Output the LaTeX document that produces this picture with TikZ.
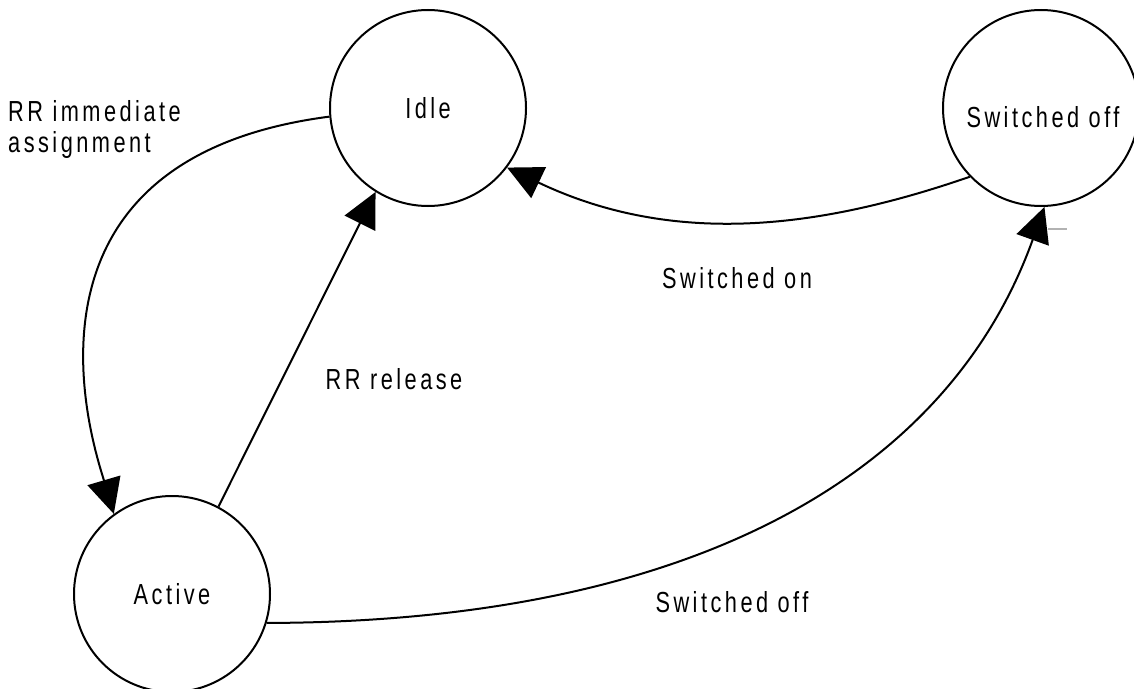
\documentclass[tikz,border=0pt]{standalone}
\usepackage{fontspec}
\setmainfont{Liberation Sans}[FakeStretch=0.75, LetterSpace=12]
\usetikzlibrary{arrows.meta}

\tikzset{
  state/.style={draw, circle, line width=2pt, minimum size=196pt, inner sep=0pt},
  txt/.style={font=\fontsize{29}{31}\selectfont},
  arr/.style={line width=2pt, -{Triangle[length=35pt, width=34pt]}},
}

\begin{document}
\begin{tikzpicture}[x=1pt, y=-1pt, txt]
  \useasboundingbox (0,0) rectangle (1134,688);

  % states
  \node[state] (idle)   at (428,108) {Idle};
  \node[state] (swoff)  at (1041,108) {};
  \node (swofftext) at (1043,117) {Switched off};
  \node[state] (active) at (172,594) {Active};

  % transition labels
  \node[anchor=north west, align=left, inner sep=0pt] (lblassign) at (8,100)
    {RR immediate\\assignment};
  \node (lblrelease) at (394,379) {RR release};
  \node (lblon)  at (737,278) {Switched on};
  \node (lbloff) at (732,602) {Switched off};

  % transitions
  \draw[arr] (idle.185) .. controls (-5,160) and (95,450) .. (active.126);
  \draw[arr] (active.62) -- (idle.238.6);
  \draw[arr] (swoff.224) .. controls (830,225) and (680,250) .. (idle.323);
  \draw[arr] (active.343) .. controls (700,622) and (950,470) .. (swoff.272);

  % small stray tick beside the arrowhead
  \coordinate (tickA) at (1048,229);
  \coordinate (tickB) at (1067,229);
  \draw[gray!60, line width=1.5pt] (tickA) -- (tickB);
\end{tikzpicture}
\end{document}
